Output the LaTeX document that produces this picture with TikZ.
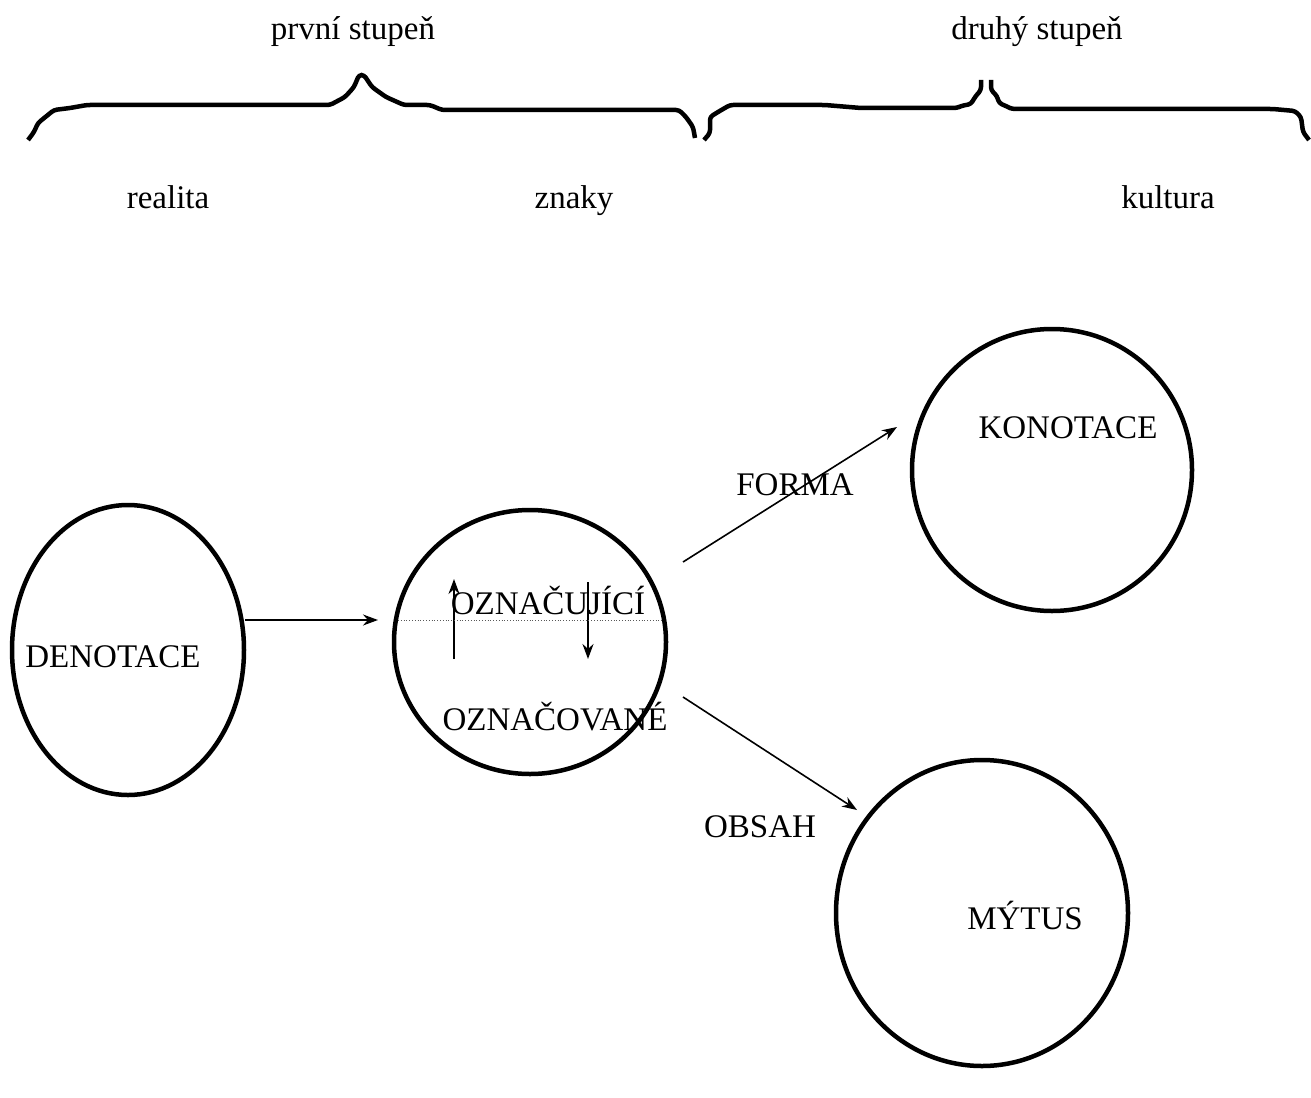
\documentclass[tikz,border=0pt]{standalone}
\usepackage{fontspec}
\setmainfont{Liberation Serif}
\usetikzlibrary{shapes.geometric,arrows.meta}
\begin{document}
\begin{tikzpicture}[x=1pt,y=-1pt,
  lbl/.style={font=\fontsize{33}{38}\selectfont, inner sep=0pt},
  ring/.style={draw, ellipse, line width=4.5pt, inner sep=0pt},
  conn/.style={line width=1.6pt, -{Stealth[length=15pt,width=11pt]}},
  bracepath/.style={line width=4.5pt, line join=round, rounded corners=3pt}]
\useasboundingbox (0,0) rectangle (1311,1097);
% braces
\draw[bracepath] (28,140) -- (34,132) -- (38,123) -- (54,110) -- (70,108) -- (87,105) -- (330,105)
  -- (345,97) -- (354,87) -- (359,75) -- (364,75) -- (372,87) -- (386,97) -- (404,105) -- (430,105)
  -- (442,110) -- (679,110) -- (686,117) -- (693,127) -- (695,138);
\draw[bracepath] (704,140) -- (710,133) -- (710,117) -- (718,112) -- (730,105) -- (825,105)
  -- (861,108) -- (957,108) -- (961,106) -- (971,104) -- (975,97) -- (981,90) -- (981,80);
\draw[bracepath] (991,80) -- (991,90) -- (997,96) -- (999,103) -- (1008,107) -- (1012,109)
  -- (1273,109) -- (1295,111) -- (1301,117) -- (1303,132) -- (1309,140);
% headings
\node[lbl, anchor=base] (t1) at (353,40) {první stupeň};
\node[lbl, anchor=base] (t2) at (1037,40) {druhý stupeň};
\node[lbl, anchor=base] (r) at (168,208) {realita};
\node[lbl, anchor=base] (z) at (574,208) {znaky};
\node[lbl, anchor=base] (k) at (1168,208) {kultura};
% circles
\node[ring, minimum width=232pt, minimum height=290pt] (den) at (128,650) {};
\node[ring, minimum width=272pt, minimum height=264pt] (mid) at (530,642) {};
\node[ring, minimum width=280pt, minimum height=282pt] (kon) at (1052,470) {};
\node[ring, minimum width=292pt, minimum height=306pt] (myt) at (982,913) {};
% labels
\node[lbl] (denl) at (113,657) {DENOTACE};
\node[lbl] (ozu) at (548,600) {OZNAČUJÍCÍ};
\node[lbl] (ozv) at (555,717) {OZNAČOVANÉ};
\node[lbl] (konl) at (1068,428) {KONOTACE};
\node[lbl] (myl) at (1025,915) {MÝTUS};
\node[lbl] (forma) at (795,485) {FORMA};
\node[lbl] (obsah) at (760,827) {OBSAH};
% connector endpoints
\coordinate (a1) at (245,620);
\coordinate (a2) at (378,620);
\coordinate (f1) at (683,562);
\coordinate (f2) at (897,427);
\coordinate (o1) at (683,697);
\coordinate (o2) at (857,810);
\coordinate (u1) at (454,659);
\coordinate (u2) at (454,579);
\coordinate (d1) at (588,582);
\coordinate (d2) at (588,659);
\coordinate (l1) at (398,620);
\coordinate (l2) at (663,620);
\draw[conn] (a1) -- (a2);
\draw[conn] (f1) -- (f2);
\draw[conn] (o1) -- (o2);
\draw[conn] (u1) -- (u2);
\draw[conn] (d1) -- (d2);
\draw[line width=0.8pt, dotted, gray!70!black] (l1) -- (l2);
\end{tikzpicture}
\end{document}
